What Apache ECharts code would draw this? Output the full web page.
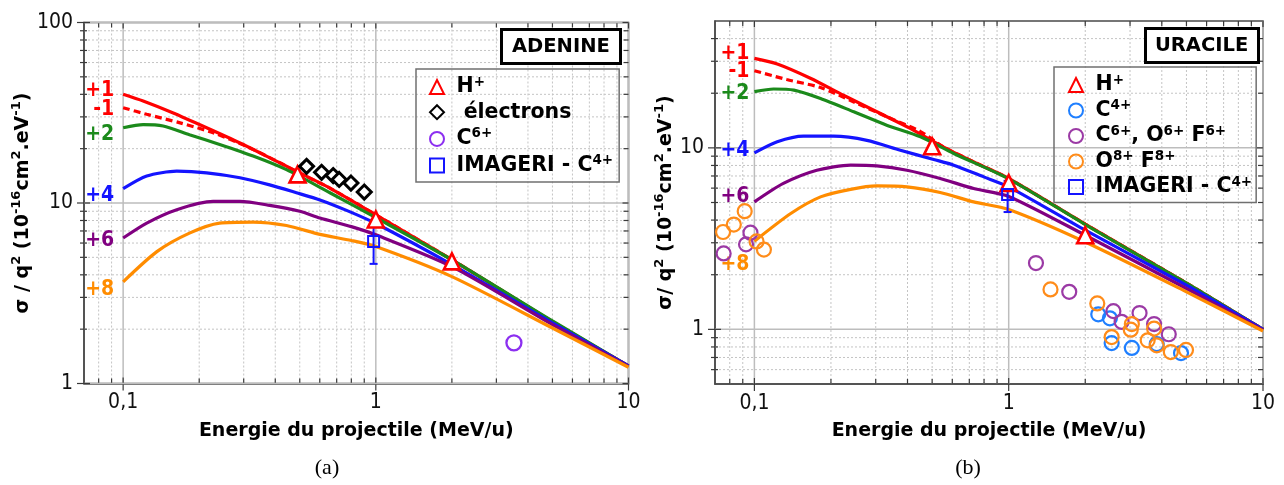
<!DOCTYPE html>
<html>
<head>
<meta charset="utf-8">
<script src="https://cdn.jsdelivr.net/npm/echarts@6/dist/echarts.min.js"></script>
<style>
html,body{margin:0;padding:0;background:#fff;}
#chart{width:1284px;height:485px;}
</style>
</head>
<body>
<div id="chart"></div>
<script>
// ---------- DATA : panel (a) ADENINE ----------
const A_P1 = [[0.1,40.0],[0.12,36.7],[0.157,31.6],[0.214,26.1],[0.29,21.5],[0.369,18.2],[0.485,15.0],[0.658,12.1],[1,8.6],[2,4.85],[5,2.2],[10,1.25]];
const A_M1 = [[0.1,33.7],[0.124,31.0],[0.168,27.8],[0.227,24.5],[0.308,20.6],[0.417,16.7],[0.5,14.6],[0.658,12.1],[1,8.6],[2,4.85],[5,2.2],[10,1.25]];
const A_P2 = [[0.1,26.1],[0.12,27.2],[0.144,26.7],[0.183,23.9],[0.241,21.1],[0.327,18.2],[0.443,15.3],[0.658,11.4],[1,8.3],[2,4.84],[5,2.22],[10,1.25]];
const A_P4 = [[0.1,12.0],[0.124,14.1],[0.163,15.0],[0.214,14.7],[0.29,13.8],[0.38,12.6],[0.485,11.4],[0.601,10.4],[0.766,9.1],[1,7.7],[2,4.56],[5,2.17],[10,1.25]];
const A_P6 = [[0.1,6.4],[0.124,7.74],[0.163,9.18],[0.227,10.2],[0.29,10.2],[0.38,9.7],[0.5,9.0],[0.601,8.26],[0.8,7.4],[1,6.67],[2,4.44],[5,2.12],[10,1.24]];
const A_P8 = [[0.1,3.66],[0.136,5.38],[0.183,6.81],[0.241,7.74],[0.327,7.84],[0.443,7.5],[0.601,6.7],[0.8,6.2],[1,5.74],[2,3.91],[5,2.03],[10,1.23]];
const A_HPLUS = [[0.49,14.4],[1,8.1],[2,4.75]];
const A_ELECTRONS = [[0.532,15.96],[0.61,14.8],[0.678,14.2],[0.716,13.5],[0.797,12.9],[0.9,11.5]];
const A_C6 = [[3.52,1.68]];
const A_IMAGERI = [[0.98,6.12]];
const A_IMAGERI_ERR = [[0.98,4.6,7.7]];

// ---------- DATA : panel (b) URACILE ----------
const B_P1 = [[0.1,31.1],[0.123,29.0],[0.166,24.2],[0.224,19.5],[0.303,15.8],[0.41,12.8],[0.555,10.1],[0.751,8.2],[1,6.78],[2,3.8],[5,1.8],[10,1.0]];
const B_M1 = [[0.1,26.6],[0.134,23.8],[0.182,21.5],[0.246,17.9],[0.333,14.8],[0.45,12.3],[0.555,10.1],[0.751,8.2],[1,6.78],[2,3.8],[5,1.8],[10,1.0]];
const B_P2 = [[0.1,20.4],[0.119,21.1],[0.143,20.8],[0.182,18.7],[0.246,15.8],[0.333,13.3],[0.45,11.5],[0.608,9.31],[1,6.75],[2,3.78],[5,1.8],[10,1.0]];
const B_P4 = [[0.1,9.38],[0.123,10.8],[0.156,11.6],[0.205,11.6],[0.277,11.0],[0.375,9.71],[0.507,8.63],[0.608,8.03],[0.798,6.92],[1,6.1],[2,3.52],[5,1.75],[10,1.0]];
const B_P6 = [[0.1,5.04],[0.13,6.37],[0.176,7.53],[0.239,8.04],[0.303,7.96],[0.398,7.53],[0.538,6.78],[0.728,5.97],[1,5.4],[2,3.3],[5,1.68],[10,0.99]];
const B_P8 = [[0.1,3.06],[0.139,4.35],[0.182,5.37],[0.239,5.91],[0.303,6.17],[0.398,6.10],[0.538,5.68],[0.728,5.04],[1,4.58],[2,3.03],[5,1.61],[10,0.98]];
const B_HPLUS = [[0.5,10.2],[1,6.4],[2,3.3]];
const B_C4 = [[2.25,1.21],[2.5,1.15],[2.54,0.84],[3.05,0.79],[3.82,0.83],[4.76,0.74]];
const B_C6 = [[0.0757,2.62],[0.0927,2.94],[0.0965,3.41],[1.28,2.32],[1.73,1.61],[2.58,1.26],[2.78,1.10],[3.27,1.23],[3.73,1.07],[4.26,0.94]];
const B_O8 = [[0.0753,3.44],[0.083,3.78],[0.0916,4.48],[0.102,3.05],[0.109,2.75],[1.46,1.66],[2.23,1.39],[2.54,0.907],[3.02,0.996],[3.05,1.07],[3.52,0.87],[3.73,1.01],[3.82,0.816],[4.34,0.75],[4.98,0.77]];
const B_IMAGERI = [[0.99,5.53]];
const B_IMAGERI_ERR = [[0.99,4.43,6.58]];

// ---------- tick values ----------
const X_MINOR_TICKS = [0.08,0.09,0.2,0.3,0.4,0.5,0.6,0.7,0.8,0.9,2,3,4,5,6,7,8,9];
const X_MAJOR_TICKS = [0.1,1,10];
const A_Y_MINOR_TICKS = [2,3,4,5,6,7,8,9,20,30,40,50,60,70,80,90];
const A_Y_MAJOR_TICKS = [1,10,100];
const B_Y_MINOR_TICKS = [0.6,0.7,0.8,0.9,2,3,4,5,6,7,8,9,20,30,40];
const B_Y_MAJOR_TICKS = [1,10];

const CURVE_NAMES = ['+1','-1','+2','+4','+6','+8'];

// ---------- styles ----------
const RED='#ff0000', GREEN='#1b8a1b', BLUE='#1414ff', PURPLE='#800080', ORANGE='#ff8c00';
const CURVE_COLORS = [RED, RED, GREEN, BLUE, PURPLE, ORANGE];
const BOLD = 'DejaVu Sans';
const COND = 'DejaVu Sans Condensed';
const A_LABEL_OFF = [[0,-4],[0,2],[0,7],[0,7],[0,3],[0,8]];
const B_LABEL_OFF = [[0,-5],[0,1],[0,2],[0,-2],[0,-5],[0,23]];

const EXT = [
  {x0:0.07, x1:10, y0:1, y1:100},
  {x0:0.07, x1:10, y0:0.5, y1:50}
];

function gridSeries(idx, yMinor, yMajor) {
  const e = EXT[idx];
  const data = [];
  X_MINOR_TICKS.forEach(v => data.push([v, e.y0, 0]));
  X_MAJOR_TICKS.forEach(v => data.push([v, e.y0, 2]));
  yMinor.forEach(v => data.push([e.x0, v, 1]));
  yMajor.forEach(v => data.push([e.x0, v, 3]));
  const minorStyle = {stroke:'#c4c4c4', lineWidth:1, lineDash:[2,2]};
  const majorStyle = {stroke:'#bdbdbd', lineWidth:1.5};
  const tickStyle = {stroke:'#3a3a3a', lineWidth:1.2};
  const ln = (x1,y1,x2,y2,s) => ({type:'line', shape:{x1,y1,x2,y2}, style:s, silent:true});
  return {
    type:'custom', xAxisIndex:idx, yAxisIndex:idx, silent:true, z:1, clip:false,
    data,
    renderItem: function(params, api) {
      const k = api.value(2);
      const ch = [];
      if (k === 0 || k === 2) {
        const x = api.value(0);
        const a = api.coord([x, e.y0]), b = api.coord([x, e.y1]);
        ch.push(ln(a[0],a[1],b[0],b[1], k===0?minorStyle:majorStyle));
        if (k === 0) { ch.push(ln(a[0],a[1],a[0],a[1]-5,tickStyle)); ch.push(ln(b[0],b[1],b[0],b[1]+5,tickStyle)); }
        else { ch.push(ln(a[0],a[1]+7,a[0],a[1]-6,tickStyle)); ch.push(ln(b[0],b[1],b[0],b[1]+6,tickStyle)); }
      } else {
        const y = api.value(1);
        const a = api.coord([e.x0, y]), b = api.coord([e.x1, y]);
        ch.push(ln(a[0],a[1],b[0],b[1], k===1?minorStyle:majorStyle));
        if (k === 1) { ch.push(ln(a[0]-4,a[1],a[0]+3,a[1],tickStyle)); ch.push(ln(b[0]-5,b[1],b[0],b[1],tickStyle)); }
        else { ch.push(ln(a[0]-7,a[1],a[0]+6,a[1],tickStyle)); ch.push(ln(b[0]-6,b[1],b[0],b[1],tickStyle)); }
      }
      return {type:'group', children:ch};
    }
  };
}

function curveSeries(idx, name, pts, color, dashed, off, dist) {
  const data = pts.map((p, i) => {
    if (i === 0) {
      return {value:p, label:{show:true, position:'left', distance:dist, offset:off, formatter:name,
        color:color, fontFamily:COND, fontWeight:'bold', fontSize:21}};
    }
    return {value:p};
  });
  return {
    type:'line', name:'curve'+idx+name, xAxisIndex:idx, yAxisIndex:idx, z:2,
    data, symbol:'circle', symbolSize:0, showSymbol:true, smooth:0.25,
    itemStyle:{color:'rgba(0,0,0,0)'},
    lineStyle:{color:color, width:3.2, type: dashed?[7,4]:'solid'},
    emphasis:{disabled:true}, silent:true, animation:false
  };
}

function scatterSeries(idx, name, pts, symbol, size, color, fill, bw) {
  return {
    type:'scatter', name, xAxisIndex:idx, yAxisIndex:idx, z:4,
    data:pts, symbol, symbolSize:size,
    itemStyle:{color:fill, borderColor:color, borderWidth:bw, opacity:1},
    emphasis:{disabled:true}, silent:true
  };
}

function errSeries(idx, pts, color) {
  return {
    type:'custom', xAxisIndex:idx, yAxisIndex:idx, z:4, silent:true,
    data:pts, encode:{x:0, y:[1,2]},
    renderItem: function(params, api) {
      const lo = api.coord([api.value(0), api.value(1)]);
      const hi = api.coord([api.value(0), api.value(2)]);
      const s = {stroke:color, lineWidth:2};
      return {type:'group', children:[
        {type:'line', shape:{x1:lo[0],y1:lo[1],x2:hi[0],y2:hi[1]}, style:s},
        {type:'line', shape:{x1:lo[0]-4,y1:lo[1],x2:lo[0]+4,y2:lo[1]}, style:s},
        {type:'line', shape:{x1:hi[0]-4,y1:hi[1],x2:hi[0]+4,y2:hi[1]}, style:s}
      ]};
    }
  };
}

const LEGEND_TEXT = {
  aH:'{g| }{t|H}{s|+}', aE:'{g| }{t| électrons}', aC6:'{g| }{t|C}{s|6+}', aI:'{g| }{t|IMAGERI - C}{s|4+}',
  bH:'{g| }{t|H}{s|+}', bC4:'{g| }{t|C}{s|4+}', bC6:'{g| }{t|C}{s|6+}{t|, O}{s|6+}{t| F}{s|6+}',
  bO8:'{g| }{t|O}{s|8+}{t| F}{s|8+}', bI:'{g| }{t|IMAGERI - C}{s|4+}'
};
const RICH = {
  g:{width:7.5, fontSize:10, lineHeight:24},
  t:{fontFamily:BOLD, fontWeight:'bold', fontSize:20.5, color:'#000', lineHeight:24},
  s:{fontFamily:BOLD, fontWeight:'bold', fontSize:13.5, color:'#000', lineHeight:12, verticalAlign:'top'}
};
const RICH_NAME = {
  t:{fontFamily:BOLD, fontWeight:'bold', fontSize:19, color:'#000', lineHeight:26},
  s:{fontFamily:BOLD, fontWeight:'bold', fontSize:13, color:'#000', lineHeight:12, verticalAlign:'top'}
};

function decadeFmt(comma) {
  return function(v) {
    const l = Math.log10(v);
    if (Math.abs(l - Math.round(l)) > 1e-6) return '';
    const p = Math.pow(10, Math.round(l));
    const s = String(p);
    return comma ? s.replace('.', ',') : s;
  };
}

function xAxis(idx) {
  const e = EXT[idx];
  return {
    type:'log', logBase:10, gridIndex:idx, min:e.x0, max:e.x1,
    axisLine:{show:true, lineStyle:{color:'#4a4a4a', width:1.5}},
    axisTick:{show:false}, splitLine:{show:false}, minorTick:{show:false}, minorSplitLine:{show:false},
    axisLabel:{formatter:decadeFmt(true), margin:9, fontFamily:COND, fontSize:21, color:'#111',
      showMinLabel:true, showMaxLabel:true, hideOverlap:false},
    name:'Energie du projectile (MeV/u)', nameLocation:'middle', nameGap:38,
    nameTextStyle:{fontFamily:BOLD, fontWeight:'bold', fontSize:19, color:'#000'}
  };
}
function yAxis(idx, nameText, gap) {
  const e = EXT[idx];
  return {
    type:'log', logBase:10, gridIndex:idx, min:e.y0, max:e.y1,
    axisLine:{show:true, lineStyle:{color:'#4a4a4a', width:1.5}},
    axisTick:{show:false}, splitLine:{show:false}, minorTick:{show:false}, minorSplitLine:{show:false},
    axisLabel:{formatter:decadeFmt(false), margin:11, fontFamily:COND, fontSize:21, color:'#111',
      showMinLabel:true, showMaxLabel:true, hideOverlap:false},
    name:nameText, nameLocation:'middle', nameRotate:90, nameGap:gap,
    nameTextStyle:{fontFamily:BOLD, fontWeight:'bold', fontSize:19, color:'#000', rich:RICH_NAME}
  };
}

const A_CURVES = [A_P1, A_M1, A_P2, A_P4, A_P6, A_P8];
const B_CURVES = [B_P1, B_M1, B_P2, B_P4, B_P6, B_P8];

const series = [gridSeries(0, A_Y_MINOR_TICKS, A_Y_MAJOR_TICKS), gridSeries(1, B_Y_MINOR_TICKS, B_Y_MAJOR_TICKS)];
A_CURVES.forEach((c, i) => series.push(curveSeries(0, CURVE_NAMES[i], c, CURVE_COLORS[i], i===1, A_LABEL_OFF[i], 9)));
B_CURVES.forEach((c, i) => series.push(curveSeries(1, CURVE_NAMES[i], c, CURVE_COLORS[i], i===1, B_LABEL_OFF[i], 5)));

series.push(scatterSeries(0, 'aH', A_HPLUS, 'triangle', 16, RED, '#ffffff', 2.6));
series.push(scatterSeries(0, 'aE', A_ELECTRONS, 'diamond', 14, '#000000', '#ffffff', 3));
series.push(scatterSeries(0, 'aC6', A_C6, 'circle', 15, '#8c2ff0', 'rgba(255,255,255,0)', 2.3));
series.push(scatterSeries(0, 'aI', A_IMAGERI, 'rect', 11, BLUE, 'rgba(255,255,255,0)', 2));
series.push(errSeries(0, A_IMAGERI_ERR, BLUE));

series.push(scatterSeries(1, 'bC4', B_C4, 'circle', 14, '#1f7fff', 'rgba(255,255,255,0)', 2.2));
series.push(scatterSeries(1, 'bC6', B_C6, 'circle', 14, '#9b3aa5', 'rgba(255,255,255,0)', 2.2));
series.push(scatterSeries(1, 'bO8', B_O8, 'circle', 14, '#ff8c1a', 'rgba(255,255,255,0)', 2.2));
series.push(scatterSeries(1, 'bH', B_HPLUS, 'triangle', 16, RED, '#ffffff', 2.6));
series.push(scatterSeries(1, 'bI', B_IMAGERI, 'rect', 11, BLUE, 'rgba(255,255,255,0)', 2));
series.push(errSeries(1, B_IMAGERI_ERR, BLUE));

function legend(left, top, names, pad, gap) {
  return {
    show:true, orient:'vertical', left, top, data:names, padding:pad,
    itemWidth:14, itemHeight:14, itemGap:gap, selectedMode:false,
    borderColor:'#707070', borderWidth:1.5, backgroundColor:'rgba(255,255,255,0)',
    formatter:n => LEGEND_TEXT[n],
    textStyle:{fontFamily:BOLD, fontWeight:'bold', fontSize:20.5, color:'#000', rich:RICH}
  };
}

const titleStyle = {fontFamily:BOLD, fontWeight:'bold', fontSize:19.5, color:'#000'};

const option = {
  animation:false,
  backgroundColor:'#ffffff',
  title:[
    {text:'ADENINE', left:501, top:29, padding:[8,11,7,11], borderColor:'#000', borderWidth:3, backgroundColor:'#fff', textStyle:titleStyle},
    {text:'URACILE', left:1145, top:28, padding:[8,10,7,10], borderColor:'#000', borderWidth:3, backgroundColor:'#fff', textStyle:titleStyle}
  ],
  legend:[
    legend(416, 69, ['aH','aE','aC6','aI'], [6,6,6,13], 4.2),
    legend(1054, 67, ['bH','bC4','bC6','bO8','bI'], [6,4,5,14], 3)
  ],
  grid:[
    {left:84, right:655.5, top:22.5, bottom:101.5, show:true, borderColor:'#4a4a4a', borderWidth:1.5, backgroundColor:'rgba(0,0,0,0)', containLabel:false, outerBoundsMode:'none'},
    {left:715, right:21, top:21, bottom:101, show:true, borderColor:'#4a4a4a', borderWidth:1.5, backgroundColor:'rgba(0,0,0,0)', containLabel:false, outerBoundsMode:'none'}
  ],
  xAxis:[xAxis(0), xAxis(1)],
  yAxis:[
    yAxis(0, '{t|σ / q}{s|2}{t| (10}{s|-16}{t|cm}{s|2}{t|.eV}{s|-1}{t|)}', 45),
    yAxis(1, '{t|σ/ q}{s|2}{t| (10}{s|-16}{t|cm}{s|2}{t|.eV}{s|-1}{t|)}', 36)
  ],
  graphic:[
    {type:'text', x:327, y:468, style:{text:'(a)', fontFamily:'Liberation Serif', fontSize:22, fill:'#000', align:'center', verticalAlign:'middle'}},
    {type:'text', x:968, y:468, style:{text:'(b)', fontFamily:'Liberation Serif', fontSize:22, fill:'#000', align:'center', verticalAlign:'middle'}}
  ],
  series
};

const chart = echarts.init(document.getElementById('chart'), null, {renderer:'canvas'});
chart.setOption(option);
</script>
</body>
</html>
